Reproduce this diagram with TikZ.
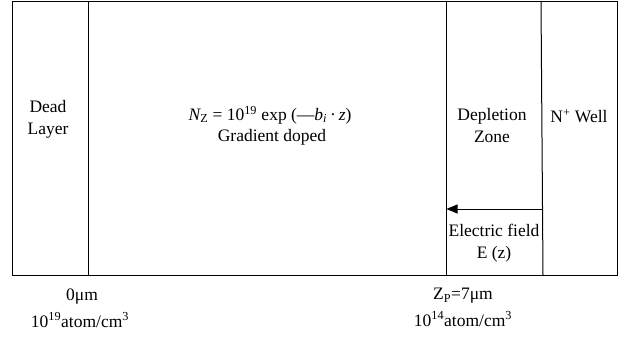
\documentclass[tikz,border=0pt]{standalone}
\usepackage{fontspec}
\setmainfont{Liberation Serif}
\usetikzlibrary{arrows.meta}
\begin{document}
\begin{tikzpicture}[x=1pt,y=-1pt,
  lbl/.style={font=\fontsize{17.5}{22}\selectfont, align=center, inner sep=0pt},
  wall/.style={line width=1pt, black}]
\useasboundingbox (0,0) rectangle (619,343);
\coordinate (tl) at (12,1);
\coordinate (br) at (617,275);
\draw[wall] (tl) rectangle (br);
\coordinate (d1) at (88,1);  \coordinate (d1b) at (88,275);
\coordinate (d2) at (446,1); \coordinate (d2b) at (446,275);
\coordinate (d3) at (541,1); \coordinate (d3b) at (543,275);
\draw[wall] (d1) -- (d1b);
\draw[wall] (d2) -- (d2b);
\draw[wall] (d3) -- (d3b);
\coordinate (as) at (542,209);
\coordinate (ae) at (446.5,209);
\draw[line width=1pt, -{Triangle[length=11pt,width=9pt]}] (as) -- (ae);
\node[lbl] (dead) at (48,119) {Dead\\Layer};
\node[lbl] (formula) at (270,115) {{\itshape N}\textsubscript{Z} = 10\textsuperscript{19} exp (—{\itshape b\textsubscript{i}}\,·\,{\itshape z})};
\node[lbl] (grad) at (272,137) {Gradient doped};
\node[lbl] (depl) at (492,126) {Depletion\\Zone};
\node[lbl] (well) at (579,116) {N\textsuperscript{+} Well};
\node[lbl] (ef) at (494,243) {Electric field\\E (z)};
\node[lbl] (zero) at (82,297) {0μm};
\node[lbl] (c19) at (80,320) {10\textsuperscript{19}atom/cm\textsuperscript{3}};
\node[lbl] (zp) at (463,296) {Z\textsubscript{P}=7μm};
\node[lbl] (c14) at (463,319) {10\textsuperscript{14}atom/cm\textsuperscript{3}};
\end{tikzpicture}
\end{document}
